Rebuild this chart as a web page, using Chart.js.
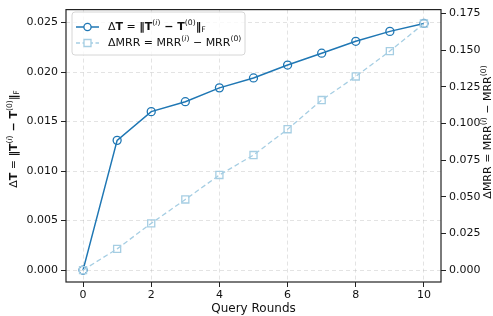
<!DOCTYPE html>
<html>
<head>
<meta charset="utf-8">
<script src="https://cdn.jsdelivr.net/npm/chart.js@4"></script>
<style>
  html, body { margin: 0; padding: 0; background: #fff; }
</style>
</head>
<body>
<canvas id="chart" width="493" height="316"></canvas>
<script>
// values
const rounds = [0, 1, 2, 3, 4, 5, 6, 7, 8, 9, 10];
const deltaT = [0, 0.0131, 0.0160, 0.0170, 0.0184, 0.0194, 0.0207, 0.0219, 0.0231, 0.0241, 0.0249];
const deltaMRR = [0, 0.0145, 0.0319, 0.0482, 0.0649, 0.0785, 0.0961, 0.1160, 0.1321, 0.1494, 0.1682];
const xTicks = [0, 2, 4, 6, 8, 10];
const leftTicks = [0, 0.005, 0.010, 0.015, 0.020, 0.025];
const rightTicks = [0, 0.025, 0.050, 0.075, 0.100, 0.125, 0.150, 0.175];

const FONT = "'DejaVu Sans', sans-serif";
const darkBlue = '#1f77b4';
const lightBlue = '#a6cee3';

// rich labels as [text, style] pieces
const labelT = [['Δ', 'n'], ['T', 'b'], [' = ', 'n'], ['‖', 'b'], ['T', 'b'], ['(', 'sup'], ['i', 'supi'], [')', 'sup'],
  [' − ', 'b'], ['T', 'b'], ['(0)', 'sup'], ['‖', 'b'], ['F', 'sub']];
const labelMRR = [['ΔMRR = MRR', 'n'], ['(', 'sup'], ['i', 'supi'], [')', 'sup'], [' − MRR', 'n'], ['(0)', 'sup']];

function pieceFont(style, size) {
  const small = style.startsWith('sup') || style === 'sub';
  const s = small ? size * 0.7 : size;
  const w = style === 'b' ? 'bold ' : '';
  const it = style === 'supi' ? 'italic ' : '';
  return it + w + s + 'px ' + FONT;
}

// draws rich text centred at (x, y), optionally rotated
function drawRich(ctx, parts, x, y, rot, size, align) {
  ctx.save();
  ctx.translate(x, y);
  ctx.rotate(rot);
  ctx.textBaseline = 'middle';
  ctx.textAlign = 'left';
  ctx.fillStyle = '#111';
  let total = 0;
  for (const [t, st] of parts) {
    ctx.font = pieceFont(st, size);
    total += ctx.measureText(t).width;
  }
  let cx = align === 'left' ? 0 : -total / 2;
  for (const [t, st] of parts) {
    ctx.font = pieceFont(st, size);
    let dy = 0;
    if (st.startsWith('sup')) dy = -size * 0.38;
    if (st === 'sub') dy = size * 0.25;
    ctx.fillText(t, cx, dy);
    cx += ctx.measureText(t).width;
  }
  ctx.restore();
}

const extrasPlugin = {
  id: 'extras',
  afterDraw(chart) {
    const { ctx, chartArea: a } = chart;
    ctx.save();
    // frame around the plot
    ctx.strokeStyle = '#222';
    ctx.lineWidth = 1.2;
    ctx.strokeRect(a.left, a.top, a.right - a.left, a.bottom - a.top);

    // axis titles
    drawRich(ctx, labelT, 14, 139, -Math.PI / 2, 11);
    drawRich(ctx, labelMRR, 488, 132, -Math.PI / 2, 11);

    // legend box
    const bx = 72, by = 12, bw = 173, bh = 43, r = 3;
    ctx.beginPath();
    ctx.roundRect(bx, by, bw, bh, r);
    ctx.fillStyle = 'rgba(255,255,255,0.8)';
    ctx.fill();
    ctx.strokeStyle = '#d6d6d6';
    ctx.lineWidth = 1;
    ctx.stroke();

    const rows = [
      { y: 27, color: darkBlue, dash: [], shape: 'circle', label: labelT },
      { y: 43, color: lightBlue, dash: [4, 2.5], shape: 'rect', label: labelMRR }
    ];
    for (const row of rows) {
      ctx.strokeStyle = row.color;
      ctx.lineWidth = 1.5;
      ctx.setLineDash(row.dash);
      ctx.beginPath();
      ctx.moveTo(76, row.y);
      ctx.lineTo(99, row.y);
      ctx.stroke();
      ctx.setLineDash([]);
      ctx.lineWidth = 1.3;
      ctx.beginPath();
      if (row.shape === 'circle') ctx.arc(87.5, row.y, 3.6, 0, Math.PI * 2);
      else ctx.rect(84, row.y - 3.5, 7, 7);
      ctx.fillStyle = '#fff';
      ctx.fill();
      ctx.stroke();
      drawRich(ctx, row.label, 108, row.y, 0, 11, 'left');
    }
    ctx.restore();
  }
};

const data = {
  datasets: [
    {
      label: 'ΔT = ‖T(i) − T(0)‖F',
      data: rounds.map((r, i) => ({ x: r, y: deltaT[i] })),
      yAxisID: 'y',
      borderColor: darkBlue,
      borderWidth: 1.5,
      pointStyle: 'circle',
      pointRadius: 4,
      pointBorderWidth: 1.3,
      pointBackgroundColor: 'rgba(0,0,0,0)',
      pointBorderColor: darkBlue,
      order: 1
    },
    {
      label: 'ΔMRR = MRR(i) − MRR(0)',
      data: rounds.map((r, i) => ({ x: r, y: deltaMRR[i] })),
      yAxisID: 'y2',
      borderColor: lightBlue,
      borderWidth: 1.3,
      borderDash: [5, 3],
      pointStyle: 'rect',
      pointRadius: 5,
      pointBorderWidth: 1.3,
      pointBackgroundColor: 'rgba(0,0,0,0)',
      pointBorderColor: lightBlue,
      order: 0
    }
  ]
};

const tickFont = { family: FONT, size: 11 };
const gridStyle = { color: 'rgba(176,176,176,0.35)', tickColor: '#222', tickLength: 5, tickWidth: 1 };

const config = {
  type: 'line',
  data,
  plugins: [extrasPlugin],
  options: {
    responsive: false,
    animation: false,
    layout: { padding: { top: 8, left: 0, right: 0, bottom: 0 } },
    plugins: { legend: { display: false }, tooltip: { enabled: false } },
    scales: {
      x: {
        type: 'linear',
        min: -0.5,
        max: 10.5,
        afterBuildTicks: s => { s.ticks = xTicks.map(v => ({ value: v })); },
        afterFit: s => { s.height = 34; },
        ticks: { font: tickFont, color: '#111', padding: 2, maxRotation: 0 },
        grid: gridStyle,
        border: { display: false, dash: [4, 3] },
        title: { display: true, text: 'Query Rounds', font: { family: FONT, size: 12 }, color: '#111', padding: { top: 0, bottom: 0 } }
      },
      y: {
        position: 'left',
        min: -0.0012,
        max: 0.0263,
        afterBuildTicks: s => { s.ticks = leftTicks.map(v => ({ value: v })); },
        afterFit: s => { s.width = 66; },
        ticks: { font: tickFont, color: '#111', padding: 3, callback: v => v.toFixed(3) },
        grid: gridStyle,
        border: { display: false, dash: [4, 3] }
      },
      y2: {
        position: 'right',
        min: -0.0081,
        max: 0.1777,
        afterBuildTicks: s => { s.ticks = rightTicks.map(v => ({ value: v })); },
        afterFit: s => { s.width = 52; },
        ticks: { font: tickFont, color: '#111', padding: 3, callback: v => v.toFixed(3) },
        grid: { drawOnChartArea: false, tickColor: '#222', tickLength: 5, tickWidth: 1 },
        border: { display: false }
      }
    }
  }
};

const deltaChart = new Chart(document.getElementById('chart'), config);
</script>
</body>
</html>
